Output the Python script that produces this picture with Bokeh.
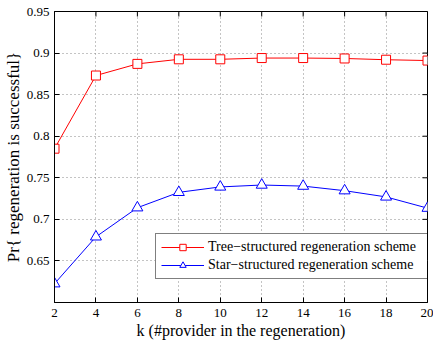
import math
from bokeh.plotting import figure
from bokeh.models import FixedTicker, Range1d, Legend, LegendItem
from bokeh.embed import file_html
from bokeh.resources import INLINE

k = [2, 4, 6, 8, 10, 12, 14, 16, 18, 20]
tree = [0.785, 0.873, 0.887, 0.8925, 0.8925, 0.894, 0.894, 0.8935, 0.892, 0.891]
star = [0.6226, 0.679, 0.714, 0.7325, 0.739, 0.7413, 0.740, 0.7345, 0.727, 0.7135]
y_ticks = [0.65, 0.7, 0.75, 0.8, 0.85, 0.9, 0.95]
x_ticks = k
x_min, x_max = 2, 20
y_min, y_max = 0.6, 0.95

FONT = "Liberation Serif"

p = figure(width=433, height=341, output_backend="svg", toolbar_location=None,
           x_range=Range1d(x_min, x_max), y_range=Range1d(y_min, y_max),
           min_border_left=10, min_border_right=6, min_border_top=11, min_border_bottom=10,
           background_fill_color="white", border_fill_color="white")
p.outline_line_color = "black"
p.outline_line_width = 1

for ax in (p.xaxis[0], p.yaxis[0]):
    ax.major_label_text_font = FONT
    ax.major_label_text_font_size = "13px"
    ax.major_label_text_color = "black"
    ax.axis_label_text_font = FONT
    ax.axis_label_text_font_style = "normal"
    ax.axis_label_text_font_size = "16px"
    ax.axis_label_text_color = "black"
    ax.major_tick_in = 5
    ax.major_tick_out = 0
    ax.minor_tick_line_color = None
    ax.axis_line_color = "black"
    ax.major_tick_line_color = "black"

p.xaxis.ticker = FixedTicker(ticks=x_ticks)
p.yaxis.ticker = FixedTicker(ticks=y_ticks)
p.xaxis.axis_label = "k (#provider in the regeneration)"
p.yaxis.axis_label = "Pr{ regeneration is successful}"
p.xaxis.major_label_standoff = 6
p.xaxis.axis_label_standoff = 2
p.yaxis.major_label_standoff = 5
p.yaxis.axis_label_standoff = 1
p.yaxis.axis_label_text_font_size = "17px"

for g in (p.xgrid[0], p.ygrid[0]):
    g.grid_line_color = "#888888"
    g.grid_line_dash = "1 3"
    g.grid_line_width = 1
p.xgrid.ticker = FixedTicker(ticks=x_ticks)
p.ygrid.ticker = FixedTicker(ticks=y_ticks)

# inward ticks on the right and top edges of the box (clipped to the frame)
p.scatter([x_max] * len(y_ticks), y_ticks, marker="dash", size=10, line_color="black", line_width=1)
p.scatter(x_ticks, [y_max] * len(x_ticks), marker="dash", size=10, angle=math.pi / 2,
          line_color="black", line_width=1)

l1 = p.line(k, tree, line_color="red", line_width=1)
m1 = p.scatter(k, tree, marker="square", size=9, line_color="red", fill_color="white", line_width=1)
l2 = p.line(k, star, line_color="blue", line_width=1)
m2 = p.scatter(k, star, marker="triangle", size=11, line_color="blue", fill_color="white", line_width=1)

legend = Legend(items=[
    LegendItem(label="Tree\u2212structured regeneration scheme", renderers=[l1, m1]),
    LegendItem(label="Star\u2212structured regeneration scheme", renderers=[l2, m2]),
], location=(101, 23))
legend.label_text_font = FONT
legend.label_text_font_size = "14px"
legend.label_text_color = "black"
legend.border_line_color = "black"
legend.border_line_width = 1.5
legend.glyph_width = 43
legend.glyph_height = 16
legend.label_height = 16
legend.label_width = 221
legend.spacing = 2
legend.padding = 5
legend.margin = 0
legend.label_standoff = 4
legend.background_fill_alpha = 1
p.add_layout(legend, "center")

open("out.html", "w").write(file_html(p, INLINE))
